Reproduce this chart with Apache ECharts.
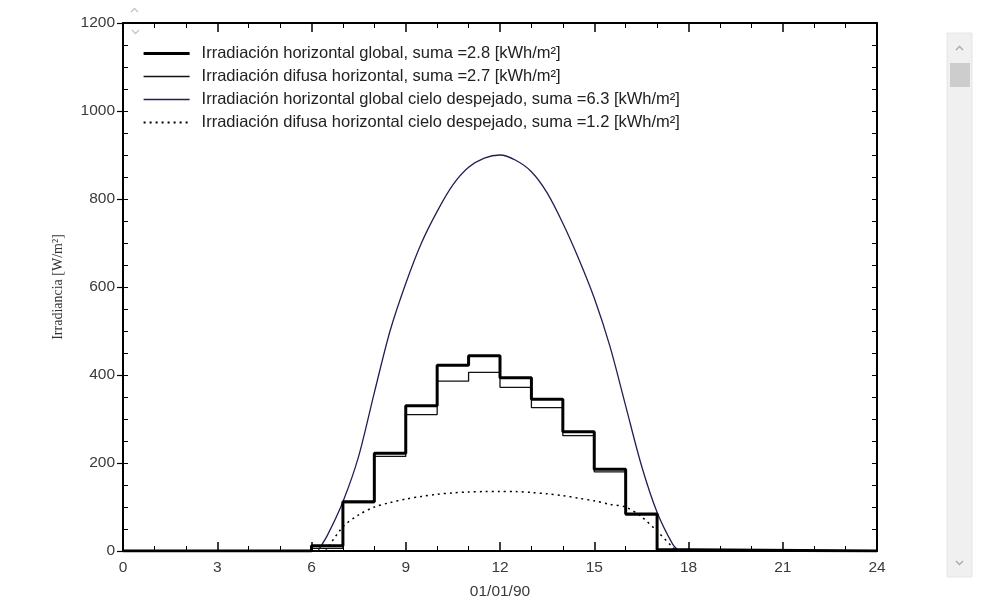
<!DOCTYPE html>
<html><head><meta charset="utf-8">
<script src="https://cdn.jsdelivr.net/npm/echarts@6/dist/echarts.min.js"></script>
<style>html,body{margin:0;padding:0;background:#fff;}#c{width:992px;height:612px;}</style>
</head><body><div id="c"></div>
<script>
// Hourly step series (value holds from hour to next hour)
const stepHours   = [0, 6, 7, 8, 9, 10, 11, 12, 13, 14, 15, 16, 17, 18, 24];
const globalVals  = [0, 12, 112, 222, 330, 422, 444, 394, 345, 271, 186, 84, 3, 0, 0];
const diffuseVals = [0, 6, 110, 215, 310, 386, 406, 372, 326, 262, 180, 82, 3, 0, 0];

// Clear-sky global (smooth curve)
const clearHours  = [6.2, 6.5, 7, 7.5, 8, 8.5, 9, 9.5, 10, 10.5, 11, 11.5, 12, 12.5, 13, 13.5, 14, 14.5, 15, 15.5, 16, 16.5, 17, 17.5, 17.7];
const clearGlobal = [0, 35, 112, 215, 360, 500, 608, 700, 772, 832, 872, 893, 900, 888, 862, 814, 745, 665, 575, 465, 330, 195, 88, 15, 0];

// Clear-sky diffuse (dotted curve)
const diffHours    = [6.45, 7, 7.5, 8, 8.5, 9, 9.5, 10, 10.5, 11, 11.5, 12, 12.5, 13, 13.5, 14, 14.5, 15, 15.5, 16, 16.5, 17, 17.5, 17.6];
const clearDiffuse = [0, 55, 82, 100, 110, 118, 124, 129, 132, 134, 135, 135, 135, 133, 130, 126, 120, 114, 106, 100, 78, 45, 8, 0];

const xTicks = [0, 24, 3];
const yTicks = [0, 1200, 200];

const legendNames = [
  'Irradiación horizontal global, suma =2.8 [kWh/m²]',
  'Irradiación difusa horizontal, suma =2.7 [kWh/m²]',
  'Irradiación horizontal global cielo despejado, suma =6.3 [kWh/m²]',
  'Irradiación difusa horizontal cielo despejado, suma =1.2 [kWh/m²]'
];

const zip = (xs, ys) => xs.map((x, i) => [x, ys[i]]);
const sans = 'Liberation Sans, Arial, sans-serif';

const chart = echarts.init(document.getElementById('c'), null, {renderer: 'canvas'});
const axisCommon = {
  type: 'value', min: xTicks[0], max: xTicks[1], interval: xTicks[2],
  splitLine: {show: false},
  axisLine: {show: true, onZero: false, lineStyle: {color: '#000', width: 2}},
  axisTick: {show: true, inside: true, length: 9, lineStyle: {color: '#000', width: 1.5}},
  minorTick: {show: true, splitNumber: 3, length: 5, lineStyle: {color: '#000', width: 1}}
};
chart.setOption({
  backgroundColor: '#fff',
  animation: false,
  grid: {left: 123, right: 115, top: 23, bottom: 61, containLabel: false},
  legend: {
    show: true, orient: 'vertical', left: 142, top: 45, padding: 0,
    itemWidth: 46, itemHeight: 14, itemGap: 6, selectedMode: false,
    itemStyle: {opacity: 0},
    textStyle: {fontFamily: sans, fontSize: 16.5, lineHeight: 16, color: '#222', padding: [0, 0, 0, 7]},
    data: [
      {name: legendNames[0], lineStyle: {width: 3.2, color: '#000'}},
      {name: legendNames[1], lineStyle: {width: 1.3}},
      {name: legendNames[2], lineStyle: {width: 1.3}},
      {name: legendNames[3]}
    ]
  },
  xAxis: [
    Object.assign({}, axisCommon, {
      position: 'bottom',
      axisLabel: {color: '#3a3a3a', fontFamily: sans, fontSize: 15.5, margin: 9},
      name: '01/01/90', nameLocation: 'middle', nameGap: 33,
      nameTextStyle: {color: '#3a3a3a', fontFamily: sans, fontSize: 15.5}
    }),
    Object.assign({}, axisCommon, {position: 'top', axisLabel: {show: false}})
  ],
  yAxis: [
    {
      type: 'value', min: yTicks[0], max: yTicks[1], interval: yTicks[2], position: 'left',
      splitLine: {show: false},
      axisLine: {show: true, onZero: false, lineStyle: {color: '#000', width: 2}},
      axisTick: {show: true, inside: false, length: 6, lineStyle: {color: '#000', width: 1.2}},
      axisLabel: {color: '#3a3a3a', fontFamily: sans, fontSize: 15.5, margin: 8, formatter: v => String(v)},
      name: 'Irradiancia [W/m²]', nameLocation: 'middle', nameGap: 58, nameRotate: 90,
      nameTextStyle: {color: '#333', fontFamily: 'Liberation Serif, Times New Roman, serif', fontSize: 14}
    },
    {
      type: 'value', min: yTicks[0], max: yTicks[1], interval: 50, position: 'left',
      splitLine: {show: false}, axisLine: {show: false},
      axisTick: {show: true, inside: true, length: 5, lineStyle: {color: '#000', width: 1}},
      axisLabel: {show: false}
    },
    {
      type: 'value', min: yTicks[0], max: yTicks[1], interval: 50, position: 'right',
      splitLine: {show: false},
      axisLine: {show: true, onZero: false, lineStyle: {color: '#000', width: 2}},
      axisTick: {show: true, inside: true, length: 5, lineStyle: {color: '#000', width: 1}},
      axisLabel: {show: false}
    }
  ],
  series: [
    {
      name: legendNames[0], type: 'line', step: 'end', showSymbol: false, symbol: 'none',
      data: zip(stepHours, globalVals), z: 5,
      lineStyle: {color: '#000', width: 3}, itemStyle: {color: '#000'}
    },
    {
      name: legendNames[1], type: 'line', step: 'end', showSymbol: false, symbol: 'none',
      data: zip(stepHours, diffuseVals), z: 4,
      lineStyle: {color: '#111', width: 1.3}, itemStyle: {color: '#111'}
    },
    {
      name: legendNames[2], type: 'line', smooth: 0.3, showSymbol: false, symbol: 'none',
      data: zip(clearHours, clearGlobal), z: 3,
      lineStyle: {color: '#1f1f55', width: 1.3}, itemStyle: {color: '#1f1f55'}
    },
    {
      name: legendNames[3], type: 'line', smooth: 0.3, showSymbol: false, symbol: 'none',
      data: zip(diffHours, clearDiffuse), z: 3,
      lineStyle: {color: '#000', width: 1.5, type: [2, 4]}, itemStyle: {color: '#000'}
    }
  ],
  graphic: [
    // scrollbar (screenshot decoration)
    {type: 'rect', shape: {x: 947, y: 33, width: 25, height: 544}, style: {fill: '#f0f0f0', stroke: '#e6e6e6'}},
    {type: 'rect', shape: {x: 950, y: 63, width: 20, height: 24}, style: {fill: '#cdcdcd'}},
    {type: 'polyline', shape: {points: [[956, 50], [959.5, 46.5], [963, 50]]}, style: {stroke: '#a8a8a8', lineWidth: 1.3, fill: null}},
    {type: 'polyline', shape: {points: [[956, 561], [959.5, 564.5], [963, 561]]}, style: {stroke: '#a8a8a8', lineWidth: 1.3, fill: null}},
    // small spinner near top-left of plot
    {type: 'polyline', shape: {points: [[131, 12], [134.5, 8.5], [138, 12]]}, style: {stroke: '#c4c4c4', lineWidth: 1.3, fill: null}},
    {type: 'polyline', shape: {points: [[132, 30], [135.5, 33.5], [139, 30]]}, style: {stroke: '#c4c4c4', lineWidth: 1.3, fill: null}}
  ]
});
</script>
</body></html>
